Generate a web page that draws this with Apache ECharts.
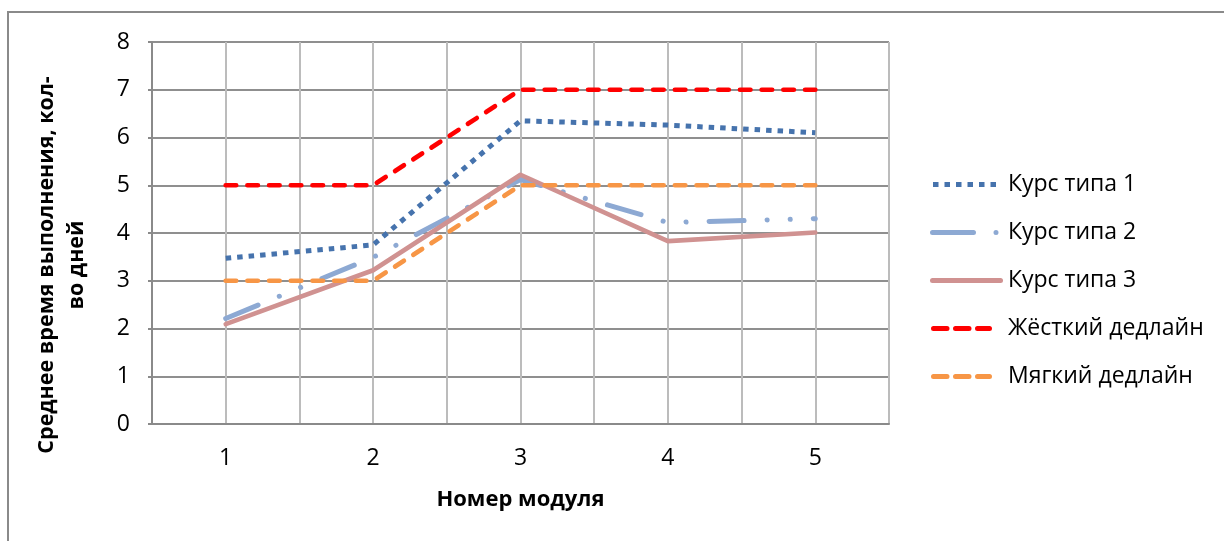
<!DOCTYPE html>
<html>
<head>
<meta charset="utf-8">
<script src="https://cdn.jsdelivr.net/npm/echarts@6.0.0/dist/echarts.min.js"></script>
<style>
  html, body { margin: 0; padding: 0; background: #fff; }
  #chart { width: 1224px; height: 541px; }
</style>
</head>
<body>
<div id="chart"></div>
<script>
// Module numbers and average completion time (days) per course type
const modules = [1, 2, 3, 4, 5];
const course1 = [3.47, 3.75, 6.35, 6.26, 6.10];
const course2 = [2.21, 3.49, 5.12, 4.22, 4.30];
const course3 = [2.09, 3.22, 5.22, 3.83, 4.01];
const hardDeadline = [5, 5, 7, 7, 7];
const softDeadline = [3, 3, 5, 5, 5];

const seriesNames = ['Курс типа 1', 'Курс типа 2', 'Курс типа 3', 'Жёсткий дедлайн', 'Мягкий дедлайн'];
const yTicks = [0, 1, 2, 3, 4, 5, 6, 7, 8];

const FONT = '"Open Sans", "Noto Sans", sans-serif';

// Legend swatches: filled shapes in a 73x5 box imitating each line's dash pattern
const BOX = 'M0 0M73 5';
function pill(x0, x1) {
  return 'M' + (x0 + 2.5) + ' 0H' + (x1 - 2.5) + 'A2.5 2.5 0 0 1 ' + (x1 - 2.5) + ' 5H' + (x0 + 2.5) +
    'A2.5 2.5 0 0 1 ' + (x0 + 2.5) + ' 0Z';
}
function square(x0, w) {
  return 'M' + x0 + ' 0h' + w + 'v5h' + (-w) + 'z';
}
const dottedIcon = 'path://' + BOX + [3, 14.5, 26, 37.5, 49, 60.5].map(x => square(x, 5.5)).join('');
const dashDotIcon = 'path://' + BOX + pill(0, 46) + pill(63.5, 68.5);
const solidIcon = 'path://' + BOX + pill(0, 73);
const dashedIcon = 'path://' + BOX + pill(1, 19.5) + pill(23, 41.5) + pill(45, 62);
const legendIcons = [dottedIcon, dashDotIcon, solidIcon, dashedIcon, dashedIcon];

function pairs(values) {
  return modules.map((m, i) => [m, values[i]]);
}

function lineSeries(name, values, color, width, dash, cap) {
  return {
    name: name,
    type: 'line',
    data: pairs(values),
    symbol: 'none',
    showSymbol: false,
    animation: false,
    lineStyle: { color: color, width: width, type: dash, cap: cap, join: 'round' },
    itemStyle: { color: color, borderWidth: 0 }
  };
}

const chart = echarts.init(document.getElementById('chart'), null, { renderer: 'canvas' });

chart.setOption({
  backgroundColor: '#ffffff',
  animation: false,
  grid: { left: 152, right: 335, top: 42, bottom: 117, containLabel: false },
  xAxis: {
    type: 'value',
    min: 0.5,
    max: 5.5,
    interval: 0.5,
    name: 'Номер модуля',
    nameLocation: 'middle',
    nameGap: 65,
    nameTextStyle: { fontFamily: FONT, fontSize: 22, fontWeight: 'bold', color: '#000' },
    axisLine: { show: true, lineStyle: { color: '#8a8a8a', width: 2 } },
    axisTick: { show: false },
    axisLabel: {
      margin: 23,
      fontFamily: FONT,
      fontSize: 23,
      color: '#000',
      showMinLabel: true,
      showMaxLabel: true,
      formatter: v => (modules.indexOf(v) >= 0 ? String(v) : '')
    },
    splitLine: { show: true, lineStyle: { color: '#bcbcbc', width: 2 } }
  },
  yAxis: {
    type: 'value',
    min: yTicks[0],
    max: yTicks[yTicks.length - 1],
    interval: 1,
    axisLine: { show: true, lineStyle: { color: '#8a8a8a', width: 2 } },
    axisTick: { show: true, length: 4, lineStyle: { color: '#8a8a8a', width: 2 } },
    axisLabel: { margin: 22, fontFamily: FONT, fontSize: 23, color: '#000' },
    splitLine: { show: true, lineStyle: { color: '#8f8f8f', width: 2 } }
  },
  legend: {
    orient: 'vertical',
    left: 925,
    top: 168,
    padding: 5,
    itemWidth: 73,
    itemHeight: 5,
    itemGap: 25,
    symbolKeepAspect: false,
    itemStyle: { borderWidth: 0 },
    data: seriesNames.map((n, i) => ({ name: n, icon: legendIcons[i] })),
    textStyle: { fontFamily: FONT, fontSize: 23, color: '#000' }
  },
  graphic: [
    {
      type: 'rect',
      silent: true,
      shape: { x: 8, y: 12, width: 1400, height: 700 },
      style: { fill: 'none', stroke: '#8a8a8a', lineWidth: 2 }
    },
    {
      type: 'text',
      silent: true,
      x: 62,
      y: 265,
      rotation: Math.PI / 2,
      style: {
        text: 'Среднее время выполнения, кол-\nво дней',
        fontFamily: FONT,
        fontSize: 21.5,
        fontWeight: 'bold',
        lineHeight: 30,
        fill: '#000',
        align: 'center',
        verticalAlign: 'middle'
      }
    }
  ],
  series: [
    lineSeries(seriesNames[0], course1, '#4673ad', 5, [5.5, 6], 'butt'),
    lineSeries(seriesNames[1], course2, '#8da9d3', 5, [35, 23, 0.1, 23, 0.1, 23], 'round'),
    lineSeries(seriesNames[2], course3, '#d09291', 4.6, 'solid', 'round'),
    lineSeries(seriesNames[3], hardDeadline, '#ff0000', 4.7, [10.5, 11.2], 'round'),
    lineSeries(seriesNames[4], softDeadline, '#f79646', 4.7, [10.5, 11.2], 'round')
  ]
});
</script>
</body>
</html>
